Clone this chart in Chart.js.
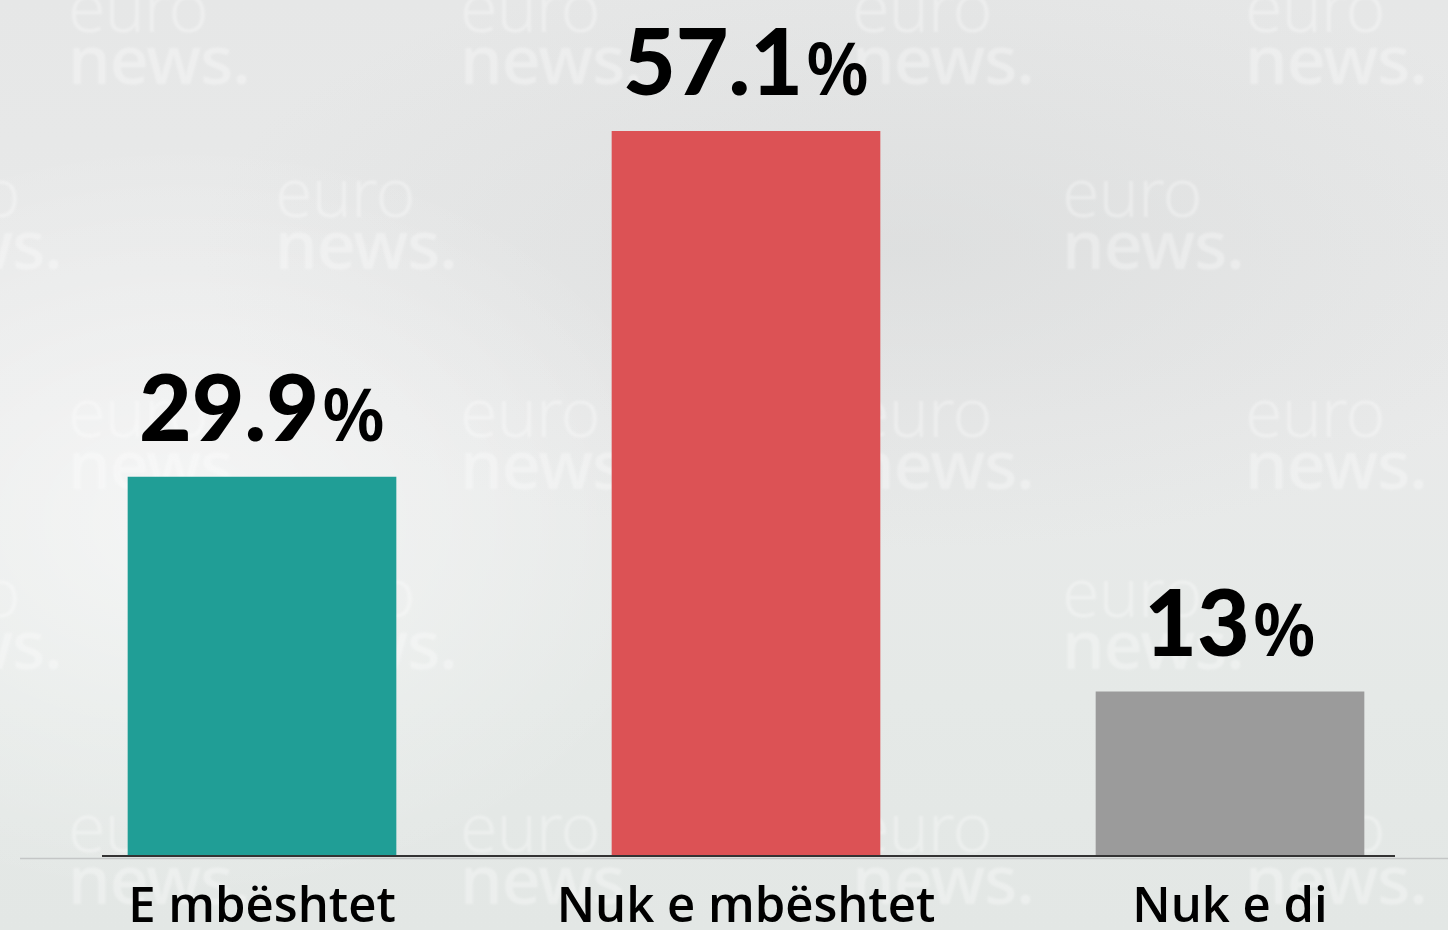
<!DOCTYPE html>
<html>
<head>
<meta charset="utf-8">
<script src="https://cdn.jsdelivr.net/npm/chart.js@4.4.1/dist/chart.umd.min.js"></script>
<style>
  html, body { margin: 0; padding: 0; overflow: hidden; }
  body {
    width: 1448px; height: 930px; position: relative;
    background:
      radial-gradient(ellipse 520px 380px at 180px 520px, rgba(255,255,255,0.55), rgba(255,255,255,0)),
      radial-gradient(ellipse 700px 300px at 900px 250px, rgba(210,212,212,0.45), rgba(210,212,212,0)),
      linear-gradient(180deg, #e6e7e7 0%, #e9eaea 45%, #e5e9e7 75%, #e3e7e5 100%);
  }
  .wm { position: absolute; color: #ffffff; opacity: 0.32; font-family: "Noto Sans", sans-serif;
        line-height: 52px; letter-spacing: -1px; filter: blur(0.8px); }
  .wm .a { font-size: 68px; font-weight: 300; display: block; }
  .wm .b { font-size: 68px; font-weight: 500; display: block; }
  canvas { position: absolute; left: 0; top: 0; }
</style>
</head>
<body>
<div class="wm" style="left:68px;top:-20px"><span class="a">euro</span><span class="b">news.</span></div>
<div class="wm" style="left:460px;top:-20px"><span class="a">euro</span><span class="b">news.</span></div>
<div class="wm" style="left:852px;top:-20px"><span class="a">euro</span><span class="b">news.</span></div>
<div class="wm" style="left:1245px;top:-20px"><span class="a">euro</span><span class="b">news.</span></div>
<div class="wm" style="left:-120px;top:165px"><span class="a">euro</span><span class="b">news.</span></div>
<div class="wm" style="left:275px;top:165px"><span class="a">euro</span><span class="b">news.</span></div>
<div class="wm" style="left:1062px;top:165px"><span class="a">euro</span><span class="b">news.</span></div>
<div class="wm" style="left:68px;top:385px"><span class="a">euro</span><span class="b">news.</span></div>
<div class="wm" style="left:460px;top:385px"><span class="a">euro</span><span class="b">news.</span></div>
<div class="wm" style="left:852px;top:385px"><span class="a">euro</span><span class="b">news.</span></div>
<div class="wm" style="left:1245px;top:385px"><span class="a">euro</span><span class="b">news.</span></div>
<div class="wm" style="left:-120px;top:565px"><span class="a">euro</span><span class="b">news.</span></div>
<div class="wm" style="left:275px;top:565px"><span class="a">euro</span><span class="b">news.</span></div>
<div class="wm" style="left:1062px;top:565px"><span class="a">euro</span><span class="b">news.</span></div>
<div class="wm" style="left:68px;top:800px"><span class="a">euro</span><span class="b">news.</span></div>
<div class="wm" style="left:460px;top:800px"><span class="a">euro</span><span class="b">news.</span></div>
<div class="wm" style="left:852px;top:800px"><span class="a">euro</span><span class="b">news.</span></div>
<div class="wm" style="left:1245px;top:800px"><span class="a">euro</span><span class="b">news.</span></div>

<canvas id="myChart" width="1472" height="930"></canvas>

<script>
const categories = ["E mbështet", "Nuk e mbështet", "Nuk e di"];
const values = [29.9, 57.1, 13];
const barColors = ["#209e96", "#dc5255", "#9b9b9b"];

// big number + smaller % above each bar, and the two base lines
const decorPlugin = {
  id: 'decor',
  afterDatasetsDraw(chart) {
    const ctx = chart.ctx;
    const bars = chart.getDatasetMeta(0).data;
    const area = chart.chartArea;

    // light gray axis line
    ctx.save();
    ctx.strokeStyle = '#c4c6c6';
    ctx.lineWidth = 1.5;
    ctx.beginPath();
    ctx.moveTo(area.left, area.bottom + 1.5);
    ctx.lineTo(area.right, area.bottom + 1.5);
    ctx.stroke();

    // dark axis line
    const first = bars[0], last = bars[bars.length - 1];
    ctx.strokeStyle = '#333333';
    ctx.lineWidth = 2;
    ctx.beginPath();
    ctx.moveTo(first.x - first.width / 2 - 26, area.bottom - 1);
    ctx.lineTo(last.x + last.width / 2 + 31, area.bottom - 1);
    ctx.stroke();

    const numFont = '900 91px Lato';
    const pctFont = '600 72px "Noto Sans"';
    bars.forEach(function(bar, i) {
      const num = String(values[i]);
      ctx.font = numFont;
      const wNum = ctx.measureText(num).width;
      ctx.font = pctFont;
      const wPct = ctx.measureText('%').width;
      const gap = 3;
      const x0 = bar.x - (wNum + gap + wPct) / 2;
      const y = bar.y - 36;
      ctx.fillStyle = '#000000';
      ctx.textBaseline = 'alphabetic';
      ctx.textAlign = 'left';
      ctx.font = numFont;
      ctx.fillText(num, x0, y);
      ctx.font = pctFont;
      ctx.fillText('%', x0 + wNum + gap, y);
    });
    ctx.restore();
  }
};

new Chart("myChart", {
  type: "bar",
  data: {
    labels: categories,
    datasets: [{
      data: values,
      backgroundColor: barColors,
      borderWidth: 0,
      barThickness: 268
    }]
  },
  options: {
    responsive: false,
    animation: false,
    layout: { padding: { left: 20, right: 0, top: 31, bottom: 0 } },
    plugins: {
      legend: { display: false },
      tooltip: { enabled: false }
    },
    scales: {
      x: {
        grid: { display: false, drawTicks: false },
        border: { display: false },
        afterFit: function(scale) { scale.height = 73; },
        ticks: {
          color: '#000000',
          padding: 22,
          font: { family: 'Open Sans', size: 49, weight: '600' }
        }
      },
      y: {
        display: false,
        min: 0,
        max: 65
      }
    }
  },
  plugins: [decorPlugin]
});
</script>
</body>
</html>
